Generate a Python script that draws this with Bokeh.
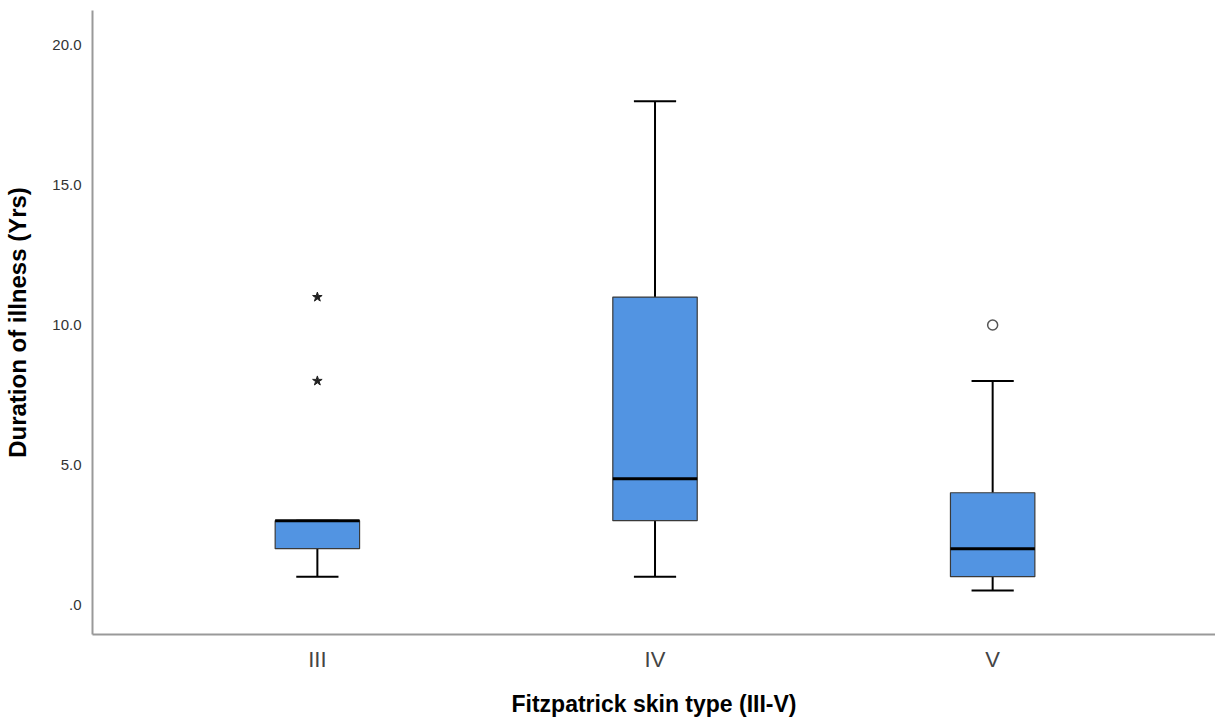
from bokeh.plotting import figure
from bokeh.models import Range1d, FixedTicker
from bokeh.embed import file_html
from bokeh.resources import INLINE

# ---- data ----
categories = ["III", "IV", "V"]
q1 = [2.0, 3.0, 1.0]
median = [3.0, 4.5, 2.0]
q3 = [3.0, 11.0, 4.0]
whisker_low = [1.0, 1.0, 0.5]
whisker_high = [3.0, 18.0, 8.0]
extreme_cat = ["III", "III"]      # starred (extreme) cases
extreme_val = [11.0, 8.0]
outlier_cat = ["V"]               # circled outliers
outlier_val = [10.0]
y_ticks = [0, 5, 10, 15, 20]
y_tick_labels = [".0", "5.0", "10.0", "15.0", "20.0"]

pos = {c: i + 1 for i, c in enumerate(categories)}
xs = [pos[c] for c in categories]

FONT = "Liberation Sans"
BOX_W = 0.25
CAP_W = 0.125

p = figure(width=1215, height=719, output_backend="svg", toolbar_location=None,
           x_range=Range1d(0.334, 3.66), y_range=Range1d(-1.07, 21.25),
           min_border_left=92, min_border_right=0, min_border_top=10, min_border_bottom=84)
p.outline_line_color = None
p.xgrid.visible = False
p.ygrid.visible = False
p.background_fill_color = "white"

# whiskers
p.segment(x0=xs, y0=q3, x1=xs, y1=whisker_high, line_color="black", line_width=2)
p.segment(x0=xs, y0=whisker_low, x1=xs, y1=q1, line_color="black", line_width=2)
# caps
p.segment(x0=[x - CAP_W / 2 for x in xs], y0=whisker_high,
          x1=[x + CAP_W / 2 for x in xs], y1=whisker_high, line_color="black", line_width=2)
p.segment(x0=[x - CAP_W / 2 for x in xs], y0=whisker_low,
          x1=[x + CAP_W / 2 for x in xs], y1=whisker_low, line_color="black", line_width=2)
# boxes
p.vbar(x=xs, width=BOX_W, bottom=q1, top=q3, fill_color="#5294E2",
       line_color="#3a3a3a", line_width=1.2)
# medians
p.segment(x0=[x - BOX_W / 2 for x in xs], y0=median,
          x1=[x + BOX_W / 2 for x in xs], y1=median, line_color="black", line_width=3)

# extremes and outliers
p.scatter(x=[pos[c] for c in extreme_cat], y=extreme_val, marker="star", size=10,
          fill_color="#222222", line_color="#222222")
p.scatter(x=[pos[c] for c in outlier_cat], y=outlier_val, marker="circle", size=10,
          fill_color="white", line_color="#555555", line_width=1.5)

# axes
p.xaxis.ticker = FixedTicker(ticks=xs)
p.xaxis.major_label_overrides = {x: c for x, c in zip(xs, categories)}
p.yaxis.ticker = FixedTicker(ticks=y_ticks)
p.yaxis.major_label_overrides = {t: l for t, l in zip(y_ticks, y_tick_labels)}

for ax in (p.xaxis, p.yaxis):
    ax.axis_line_color = "#999999"
    ax.axis_line_width = 2
    ax.major_tick_line_color = None
    ax.minor_tick_line_color = None
    ax.major_label_text_font = FONT
    ax.axis_label_text_font = FONT
    ax.axis_label_text_font_style = "bold"
    ax.axis_label_text_color = "black"

p.xaxis.axis_label = "Fitzpatrick skin type (III-V)"
p.yaxis.axis_label = "Duration of illness (Yrs)"
p.xaxis.axis_label_text_font_size = "23px"
p.yaxis.axis_label_text_font_size = "24px"
p.xaxis.major_label_text_font_size = "22px"
p.xaxis.major_label_text_color = "#444444"
p.xaxis.major_label_standoff = 6
p.xaxis.axis_label_standoff = 16
p.yaxis.major_label_text_font_size = "15px"
p.yaxis.major_label_text_color = "#333333"
p.yaxis.major_label_standoff = 5
p.yaxis.axis_label_standoff = 18

open("out.html", "w").write(file_html(p, INLINE))
